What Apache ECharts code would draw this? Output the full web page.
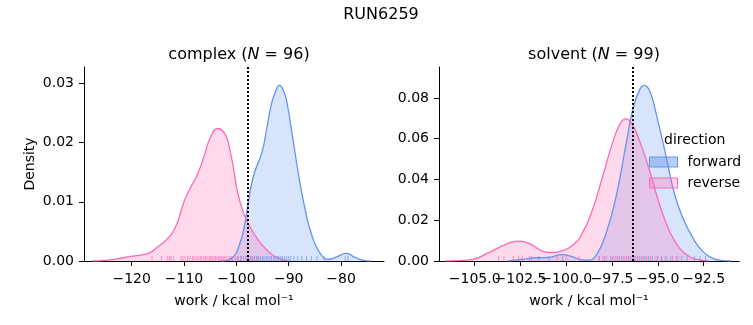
<!DOCTYPE html>
<html>
<head>
<meta charset="utf-8">
<script src="https://cdn.jsdelivr.net/npm/echarts@6/dist/echarts.min.js"></script>
<style>
  html, body { margin: 0; padding: 0; background: #fff; }
  #chart { width: 753px; height: 325px; }
</style>
</head>
<body>
<div id="chart"></div>
<script>
// KDE curves of work values: [work (kcal/mol), density]
const complexForward = [[-103,0],[-101.5,0.0002],[-100.5,0.0008],[-99.9,0.0016],[-98.7,0.0049],[-97.7,0.0100],[-96.7,0.0145],[-95.1,0.0184],[-94.2,0.0224],[-93.2,0.0269],[-92.4,0.0289],[-91.8,0.0297],[-91.1,0.0290],[-90.5,0.0275],[-89.4,0.0218],[-88.1,0.0145],[-86.9,0.0089],[-85.6,0.0044],[-84.0,0.0013],[-82.4,0.0003],[-80.8,0.0007],[-79.0,0.0013],[-77.3,0.0006],[-75.7,0.0001],[-74.5,0]];
const complexReverse = [[-127.5,0],[-125,0.0001],[-122.5,0.0004],[-120.8,0.0007],[-119,0.0009],[-117.6,0.0011],[-116.3,0.0015],[-115.4,0.0021],[-114,0.0031],[-112.5,0.0044],[-111.3,0.0064],[-110,0.0100],[-108.7,0.0125],[-107.5,0.0145],[-106.2,0.0176],[-104.9,0.0210],[-103.5,0.0224],[-102,0.0212],[-101.2,0.0186],[-100.4,0.0150],[-99.9,0.0122],[-98.7,0.0083],[-97.4,0.0058],[-95.8,0.0035],[-94.2,0.0019],[-92.3,0.0006],[-90,0]];
const solventForward = [[-103.2,0],[-102.2,0.001],[-101.68,0.0016],[-100.95,0.0018],[-100.23,0.0031],[-99.68,0.0021],[-99.14,0.0006],[-98.8,0.0004],[-98.35,0.0030],[-97.8,0.0144],[-97.26,0.0325],[-96.71,0.0587],[-96.35,0.0751],[-95.99,0.0841],[-95.75,0.0862],[-95.44,0.0833],[-95.08,0.0718],[-94.53,0.0505],[-94.08,0.0325],[-93.63,0.0210],[-93.08,0.0112],[-92.54,0.0046],[-91.99,0.0013],[-91.45,0.0002],[-91,0]];
const solventReverse = [[-106.6,0],[-105.8,0.0002],[-105.14,0.0008],[-104.23,0.0041],[-103.3,0.0082],[-102.68,0.0098],[-102.04,0.0087],[-101.3,0.0049],[-100.77,0.0041],[-100.35,0.0047],[-99.63,0.0079],[-99.08,0.0144],[-98.54,0.0259],[-97.99,0.0423],[-97.45,0.0587],[-97.08,0.0669],[-96.77,0.0697],[-96.44,0.0677],[-95.99,0.0587],[-95.44,0.0439],[-94.9,0.0275],[-94.35,0.0144],[-93.81,0.0062],[-93.26,0.0021],[-92.72,0.0005],[-92.2,0]];

// Individual work values shown as rug ticks
const complexForwardRug = [-101.0,-99.8,-99.2,-98.6,-98.0,-97.6,-97.2,-96.9,-96.5,-96.1,-95.8,-95.4,-95.0,-94.7,-94.3,-94.0,-93.6,-93.3,-92.9,-92.6,-92.2,-91.9,-91.5,-91.2,-90.8,-90.4,-90.0,-89.6,-89.0,-88.3,-87.5,-86.6,-85.7,-84.6,-83.2,-79.2,-78.7];
const complexReverseRug = [-116.1,-114.3,-113.2,-112.8,-112.5,-112.0,-110.6,-110.2,-109.8,-109.3,-108.9,-108.4,-108.1,-107.7,-107.3,-106.9,-106.6,-106.2,-105.9,-105.6,-105.2,-104.9,-104.6,-104.3,-104.0,-103.7,-103.4,-103.1,-102.8,-102.5,-102.2,-101.8,-101.3,-100.7,-100.2,-99.6,-99.0,-98.2,-97.4,-96.6,-96.0];
const solventForwardRug = [-102.0,-101.5,-100.95,-100.2,-98.2,-97.9,-97.5,-97.2,-96.9,-96.6,-96.3,-96.1,-95.9,-95.7,-95.5,-95.3,-95.0,-94.8,-94.6,-94.3,-94.0,-93.7,-93.4,-93.0,-92.7,-92.4];
const solventReverseRug = [-103.7,-103.4,-102.9,-102.6,-102.4,-101.9,-100.5,-100.0,-99.3,-98.2,-98.0,-97.8,-97.6,-97.4,-97.3,-97.1,-97.0,-96.8,-96.7,-96.5,-96.4,-96.2,-96.0,-95.8,-95.6,-95.4,-95.1,-94.8,-94.5,-94.2,-93.9];

// Free-energy estimate markers
const complexMarker = -97.8;
const solventMarker = -96.39;

// Tick positions (solvent ticks split in two interleaved sets so the
// crowded labels are all kept)
const complexXTicks = [-120, -110, -100, -90, -80];
const solventXTicksA = [-105, -100, -95];
const solventXTicksB = [-102.5, -97.5, -92.5];

const BLUE = '#6495ED';
const PINK = '#FF69B4';
const FONT = 'DejaVu Sans';
const MINUS = '\u2212';
const FS = 14;
const TFS = 16;

function fmt(v, d) {
  const s = Math.abs(v).toFixed(d);
  return v < 0 ? MINUS + s : s;
}

function xAxis(gridIndex, min, max, ticks, digits, withName) {
  return {
    type: 'value', gridIndex, min, max, position: 'bottom',
    name: withName ? 'work / kcal mol\u207B\u00B9' : '',
    nameLocation: 'middle', nameGap: 33,
    nameTextStyle: { fontFamily: FONT, fontSize: FS, color: '#000' },
    axisLine: { show: true, onZero: false, lineStyle: { color: '#000', width: 1 } },
    axisTick: { show: true, length: 5, customValues: ticks, lineStyle: { color: '#000' } },
    axisLabel: { customValues: ticks, margin: 11, fontFamily: FONT, fontSize: FS, color: '#000',
                 hideOverlap: false, showMinLabel: true, showMaxLabel: true,
                 formatter: v => fmt(v, digits) },
    splitLine: { show: false }
  };
}

function yAxis(gridIndex, max, interval, withName) {
  return {
    type: 'value', gridIndex, min: 0, max, interval,
    name: withName ? 'Density' : '',
    nameLocation: 'middle', nameGap: 47, nameRotate: 90,
    nameTextStyle: { fontFamily: FONT, fontSize: FS, color: '#000' },
    axisLine: { show: true, lineStyle: { color: '#000', width: 1 } },
    axisTick: { show: true, length: 5, lineStyle: { color: '#000' } },
    axisLabel: { margin: 10, fontFamily: FONT, fontSize: FS, color: '#000',
                 formatter: v => v.toFixed(2), showMaxLabel: false },
    splitLine: { show: false }
  };
}

function kde(name, data, color, idx, marker) {
  const s = {
    name, type: 'line', xAxisIndex: idx, yAxisIndex: idx, data,
    showSymbol: false, smooth: 0.5, silent: true,
    lineStyle: { color, width: 1.3 },
    itemStyle: { color },
    areaStyle: { color, opacity: 0.25 },
    z: 2
  };
  if (marker !== undefined) {
    s.markLine = {
      silent: true, symbol: 'none', label: { show: false },
      lineStyle: { color: '#000', type: [2, 2], width: 2 },
      data: [{ xAxis: marker }]
    };
  }
  return s;
}

function rug(name, values, color, idx) {
  return {
    name, type: 'scatter', xAxisIndex: idx, yAxisIndex: idx,
    data: values.map(v => [v, 0]),
    symbol: 'rect', symbolSize: [1, 5], symbolOffset: [0, -2.5],
    itemStyle: { color, opacity: 0.7 }, silent: true, z: 3
  };
}

const titleRich = {
  a: { fontFamily: FONT, fontSize: TFS, fontWeight: 'normal', color: '#000' },
  i: { fontFamily: FONT, fontSize: TFS, fontWeight: 'normal', fontStyle: 'italic', color: '#000' }
};

const chart = echarts.init(document.getElementById('chart'), null, { renderer: 'canvas' });
chart.setOption({
  animation: false,
  backgroundColor: '#fff',
  title: [
    { text: 'RUN6259', left: 376, top: 2, textAlign: 'center',
      textStyle: { fontFamily: FONT, fontSize: TFS, fontWeight: 'normal', color: '#000' } },
    { text: '{a|complex (}{i|N}{a| = 96)}', left: 234, top: 42, textAlign: 'center',
      textStyle: { fontWeight: 'normal', rich: titleRich } },
    { text: '{a|solvent (}{i|N}{a| = 99)}', left: 589, top: 42, textAlign: 'center',
      textStyle: { fontWeight: 'normal', rich: titleRich } }
  ],
  grid: [
    { left: 84, top: 67, width: 300, height: 194 },
    { left: 439, top: 67, width: 300, height: 194 }
  ],
  xAxis: [
    xAxis(0, -129.1, -71.8, complexXTicks, 0, true),
    xAxis(1, -106.95, -90.57, solventXTicksA, 1, true),
    xAxis(1, -106.95, -90.57, solventXTicksB, 1, false)
  ],
  yAxis: [
    yAxis(0, 0.0328, 0.01, true),
    yAxis(1, 0.0952, 0.02, false)
  ],
  legend: {
    orient: 'vertical', left: 649, top: 155, itemGap: 7, padding: 0,
    icon: 'rect', itemWidth: 28, itemHeight: 10,
    textStyle: { fontFamily: FONT, fontSize: FS, color: '#000', padding: [0, 0, 0, 5] },
    selectedMode: false,
    data: [
      { name: 'forward', itemStyle: { color: 'rgba(100,149,237,0.45)', borderColor: BLUE, borderWidth: 1 } },
      { name: 'reverse', itemStyle: { color: 'rgba(255,105,180,0.3)', borderColor: PINK, borderWidth: 1 } }
    ]
  },
  graphic: [
    { type: 'text', left: 664, top: 133,
      style: { text: 'direction', font: '14px "DejaVu Sans"', fill: '#000' } }
  ],
  series: [
    kde('forward', complexForward, BLUE, 0, complexMarker),
    kde('reverse', complexReverse, PINK, 0),
    rug('forward ticks', complexForwardRug, BLUE, 0),
    rug('reverse ticks', complexReverseRug, PINK, 0),
    kde('forward', solventForward, BLUE, 1, solventMarker),
    kde('reverse', solventReverse, PINK, 1),
    rug('forward ticks', solventForwardRug, BLUE, 1),
    rug('reverse ticks', solventReverseRug, PINK, 1)
  ]
});
</script>
</body>
</html>
